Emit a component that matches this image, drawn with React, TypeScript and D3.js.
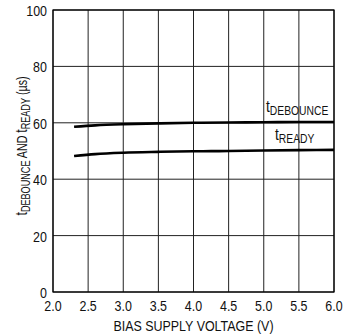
import React from "react";
import * as d3 from "d3";

const xTicks = [2.0, 2.5, 3.0, 3.5, 4.0, 4.5, 5.0, 5.5, 6.0];
const yTicks = [0, 20, 40, 60, 80, 100];
const voltage = [2.3, 2.6, 3.0, 3.5, 4.0, 4.5, 5.0, 5.5, 6.0];
const tDebounce = [58.6, 59.1, 59.5, 59.8, 60.0, 60.1, 60.2, 60.3, 60.3];
const tReady = [48.2, 48.9, 49.4, 49.7, 49.9, 50.0, 50.2, 50.3, 50.4];

const W = 347, H = 334;
const M = { left: 53, top: 10, right: 13, bottom: 42 };
const FONT = "'Liberation Sans', Arial, sans-serif";
const SX = 0.86;

function T({ x, y, anchor = "start", size = 14, rotate = 0, sx = SX, children }: any) {
  return (
    <text
      transform={`translate(${x},${y}) rotate(${rotate}) scale(${sx},1)`}
      textAnchor={anchor}
      fontFamily={FONT}
      fontSize={size}
      fill="#111"
    >
      {children}
    </text>
  );
}

export default function App() {
  const x = d3.scaleLinear().domain([2, 6]).range([M.left, W - M.right]);
  const y = d3.scaleLinear().domain([0, 100]).range([H - M.bottom, M.top]);
  const line = d3.line<number>().x((_, i) => x(voltage[i])).y((d) => y(d)).curve(d3.curveMonotoneX);

  return (
    <svg width={W} height={H} style={{ position: "absolute", left: 0, top: 0, background: "#fff" }}>
      {xTicks.map((t) => (
        <line key={"gx" + t} x1={x(t)} x2={x(t)} y1={y(0)} y2={y(100)} stroke="#222" strokeWidth={1} />
      ))}
      {yTicks.map((t) => (
        <line key={"gy" + t} x1={x(2)} x2={x(6)} y1={y(t)} y2={y(t)} stroke="#222" strokeWidth={1} />
      ))}
      <rect x={x(2)} y={y(100)} width={x(6) - x(2)} height={y(0) - y(100)} fill="none" stroke="#000" strokeWidth={1.2} />
      <path d={line(tDebounce) || ""} fill="none" stroke="#000" strokeWidth={2.6} />
      <path d={line(tReady) || ""} fill="none" stroke="#000" strokeWidth={2.6} />
      {xTicks.map((t) => (
        <T key={"tx" + t} x={x(t)} y={y(0) + 19} anchor="middle" size={14.5}>
          {t.toFixed(1)}
        </T>
      ))}
      {yTicks.map((t) => (
        <T key={"ty" + t} x={x(2) - 6} y={y(t) + 6} anchor="end" size={14.5}>
          {t}
        </T>
      ))}
      <T x={(x(2) + x(6)) / 2} y={331} anchor="middle" size={15} sx={0.83}>
        BIAS SUPPLY VOLTAGE (V)
      </T>
      <T x={27} y={146} anchor="middle" rotate={-90} sx={0.76}>
        <tspan fontSize={16}>t</tspan>
        <tspan fontSize={12} dy={3}>DEBOUNCE</tspan>
        <tspan dy={-3}> AND </tspan>
        <tspan fontSize={16}>t</tspan>
        <tspan fontSize={12} dy={3}>READY</tspan>
        <tspan dy={-3}> (µs)</tspan>
      </T>
      <T x={266} y={112}>
        <tspan fontSize={16}>t</tspan>
        <tspan fontSize={12} dy={3}>DEBOUNCE</tspan>
      </T>
      <T x={275} y={140}>
        <tspan fontSize={16}>t</tspan>
        <tspan fontSize={12} dy={3}>READY</tspan>
      </T>
    </svg>
  );
}
